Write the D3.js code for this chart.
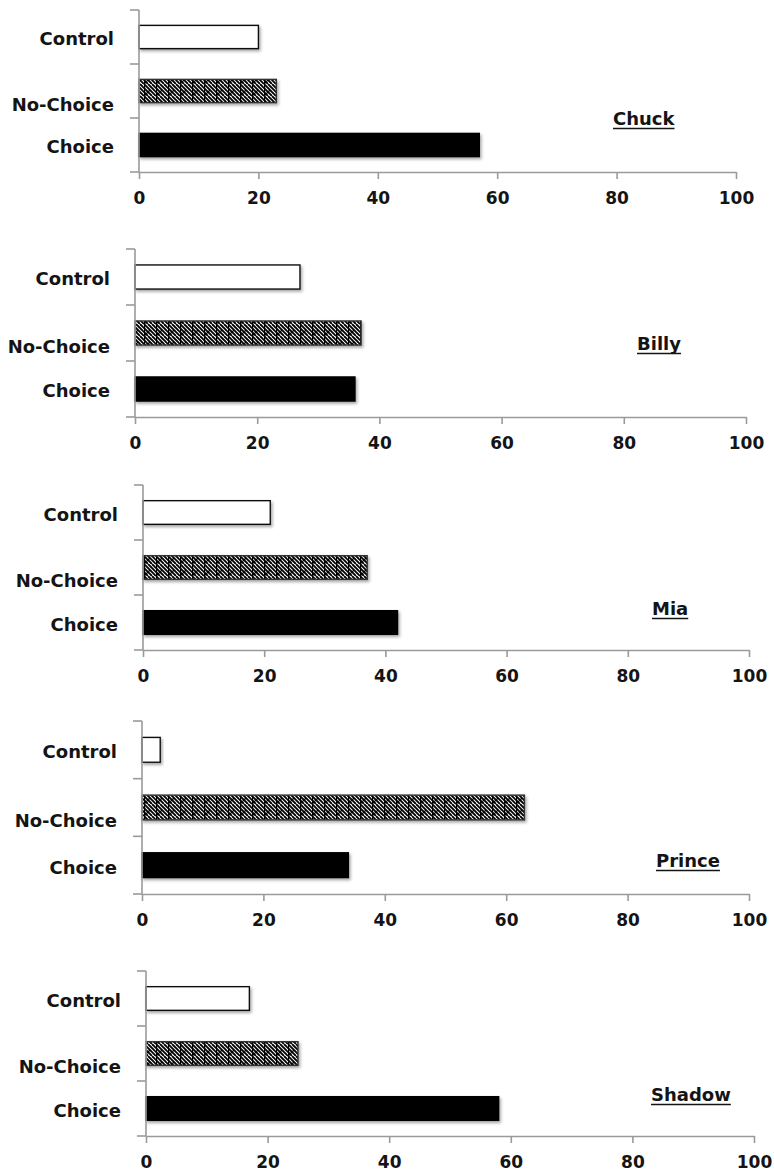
<!DOCTYPE html>
<html>
<head>
<meta charset="utf-8">
<script src="https://cdn.jsdelivr.net/npm/d3@7"></script>
<style>
  html, body { margin: 0; padding: 0; background: #fff; }
  svg { display: block; }
  text { font-family: "DejaVu Sans", sans-serif; font-weight: bold; fill: #141414; }
</style>
</head>
<body>
<svg id="chart" width="774" height="1171"></svg>
<script>
// ---- data ----
const categories = ["Control", "No-Choice", "Choice"];
const subjects = ["Chuck", "Billy", "Mia", "Prince", "Shadow"];
const controlValues = [20, 27, 21, 3, 17];
const noChoiceValues = [23, 37, 37, 63, 25];
const choiceValues = [57, 36, 42, 34, 58];
const xTickValues = [0, 20, 40, 60, 80, 100];
const xDomain = [0, 100];

// ---- layout (pixels) ----
const panelLayout = [
  { left: 139, right: 736, top: 10,  bottom: 172,  titleX: 613, titleY: 125 },
  { left: 135, right: 746, top: 249, bottom: 417,  titleX: 637, titleY: 350 },
  { left: 143, right: 749, top: 485, bottom: 650,  titleX: 652, titleY: 615 },
  { left: 142, right: 749, top: 721, bottom: 894,  titleX: 656, titleY: 867 },
  { left: 146, right: 754, top: 971, bottom: 1136, titleX: 651, titleY: 1101 }
];

const svg = d3.select("#chart");
const defs = svg.append("defs");

// hatch pattern
const pat = defs.append("pattern")
  .attr("id", "hatch").attr("patternUnits", "userSpaceOnUse")
  .attr("width", 12).attr("height", 12);
pat.append("rect").attr("width", 12).attr("height", 12).attr("fill", "#fff");
[-12, -8, -4, 0, 4, 8, 12].forEach(o => {
  pat.append("line").attr("x1", o).attr("y1", 0).attr("x2", o + 12).attr("y2", 12)
    .attr("stroke", "#000").attr("stroke-width", 1.9);
});
pat.append("line").attr("x1", 0.6).attr("y1", 0).attr("x2", 0.6).attr("y2", 12)
  .attr("stroke", "#000").attr("stroke-width", 1.2);
pat.append("path").attr("d", "M0,12 L6,6").attr("stroke", "#000").attr("stroke-width", 1.2);

// drop shadow
const f = defs.append("filter").attr("id", "shadow")
  .attr("x", "-10%").attr("y", "-30%").attr("width", "130%").attr("height", "180%");
f.append("feDropShadow").attr("dx", 1.5).attr("dy", 2).attr("stdDeviation", 1.4)
  .attr("flood-color", "#000").attr("flood-opacity", 0.35);

const fills = { "Control": "#fff", "No-Choice": "url(#hatch)", "Choice": "#000" };
const strokes = { "Control": "#111", "No-Choice": "#333", "Choice": "#000" };

subjects.forEach((name, i) => {
  const L = panelLayout[i];
  const values = [controlValues[i], noChoiceValues[i], choiceValues[i]];
  const rows = categories.map((c, k) => ({ cat: c, value: values[k] }));

  const x = d3.scaleLinear().domain(xDomain).range([L.left, L.right]);
  const y = d3.scaleBand().domain(categories).range([L.top, L.bottom])
    .paddingInner(0.57).paddingOuter(0.285);

  const g = svg.append("g");

  // bars
  g.selectAll("rect.bar").data(rows).join("rect")
    .attr("class", "bar")
    .attr("x", x(0))
    .attr("y", d => y(d.cat))
    .attr("width", d => x(d.value) - x(0))
    .attr("height", y.bandwidth())
    .attr("fill", d => fills[d.cat])
    .attr("stroke", d => strokes[d.cat])
    .attr("stroke-width", 1.4)
    .attr("filter", "url(#shadow)");

  // x axis
  const xAxis = g.append("g")
    .attr("transform", `translate(0,${L.bottom})`)
    .call(d3.axisBottom(x).tickValues(xTickValues).tickSize(7).tickPadding(13).tickSizeOuter(0));
  xAxis.select(".domain").attr("stroke", "#9a9a9a").attr("stroke-width", 1.6);
  xAxis.selectAll(".tick line").attr("stroke", "#9a9a9a").attr("stroke-width", 1.6);
  xAxis.selectAll(".tick text").attr("font-size", 17)
    .attr("font-family", "DejaVu Sans").attr("font-weight", "bold").attr("fill", "#141414");

  // y axis (category axis with ticks on band boundaries)
  const step = y.step();
  const boundaries = d3.range(categories.length + 1).map(k => L.top + k * step);
  g.append("line")
    .attr("x1", x(0)).attr("x2", x(0))
    .attr("y1", L.top).attr("y2", L.bottom)
    .attr("stroke", "#9a9a9a").attr("stroke-width", 1.6);
  g.selectAll("line.ytick").data(boundaries).join("line")
    .attr("class", "ytick")
    .attr("x1", x(0) - 9).attr("x2", x(0))
    .attr("y1", d => d).attr("y2", d => d)
    .attr("stroke", "#9a9a9a").attr("stroke-width", 1.6);

  // category labels
  g.selectAll("text.cat").data(categories).join("text")
    .attr("class", "cat")
    .attr("x", x(0) - 25)
    .attr("y", c => y(c) + y.bandwidth() / 2 + (c === "No-Choice" ? 13.5 : 2))
    .attr("dy", "0.36em")
    .attr("text-anchor", "end")
    .attr("font-size", 18)
    .text(c => c);

  // subject title with underline
  const t = g.append("text")
    .attr("x", L.titleX).attr("y", L.titleY)
    .attr("font-size", 18)
    .text(name);
  const w = t.node().getComputedTextLength();
  g.append("line")
    .attr("x1", L.titleX).attr("x2", L.titleX + w)
    .attr("y1", L.titleY + 3.5).attr("y2", L.titleY + 3.5)
    .attr("stroke", "#141414").attr("stroke-width", 1.6);
});
</script>
</body>
</html>
